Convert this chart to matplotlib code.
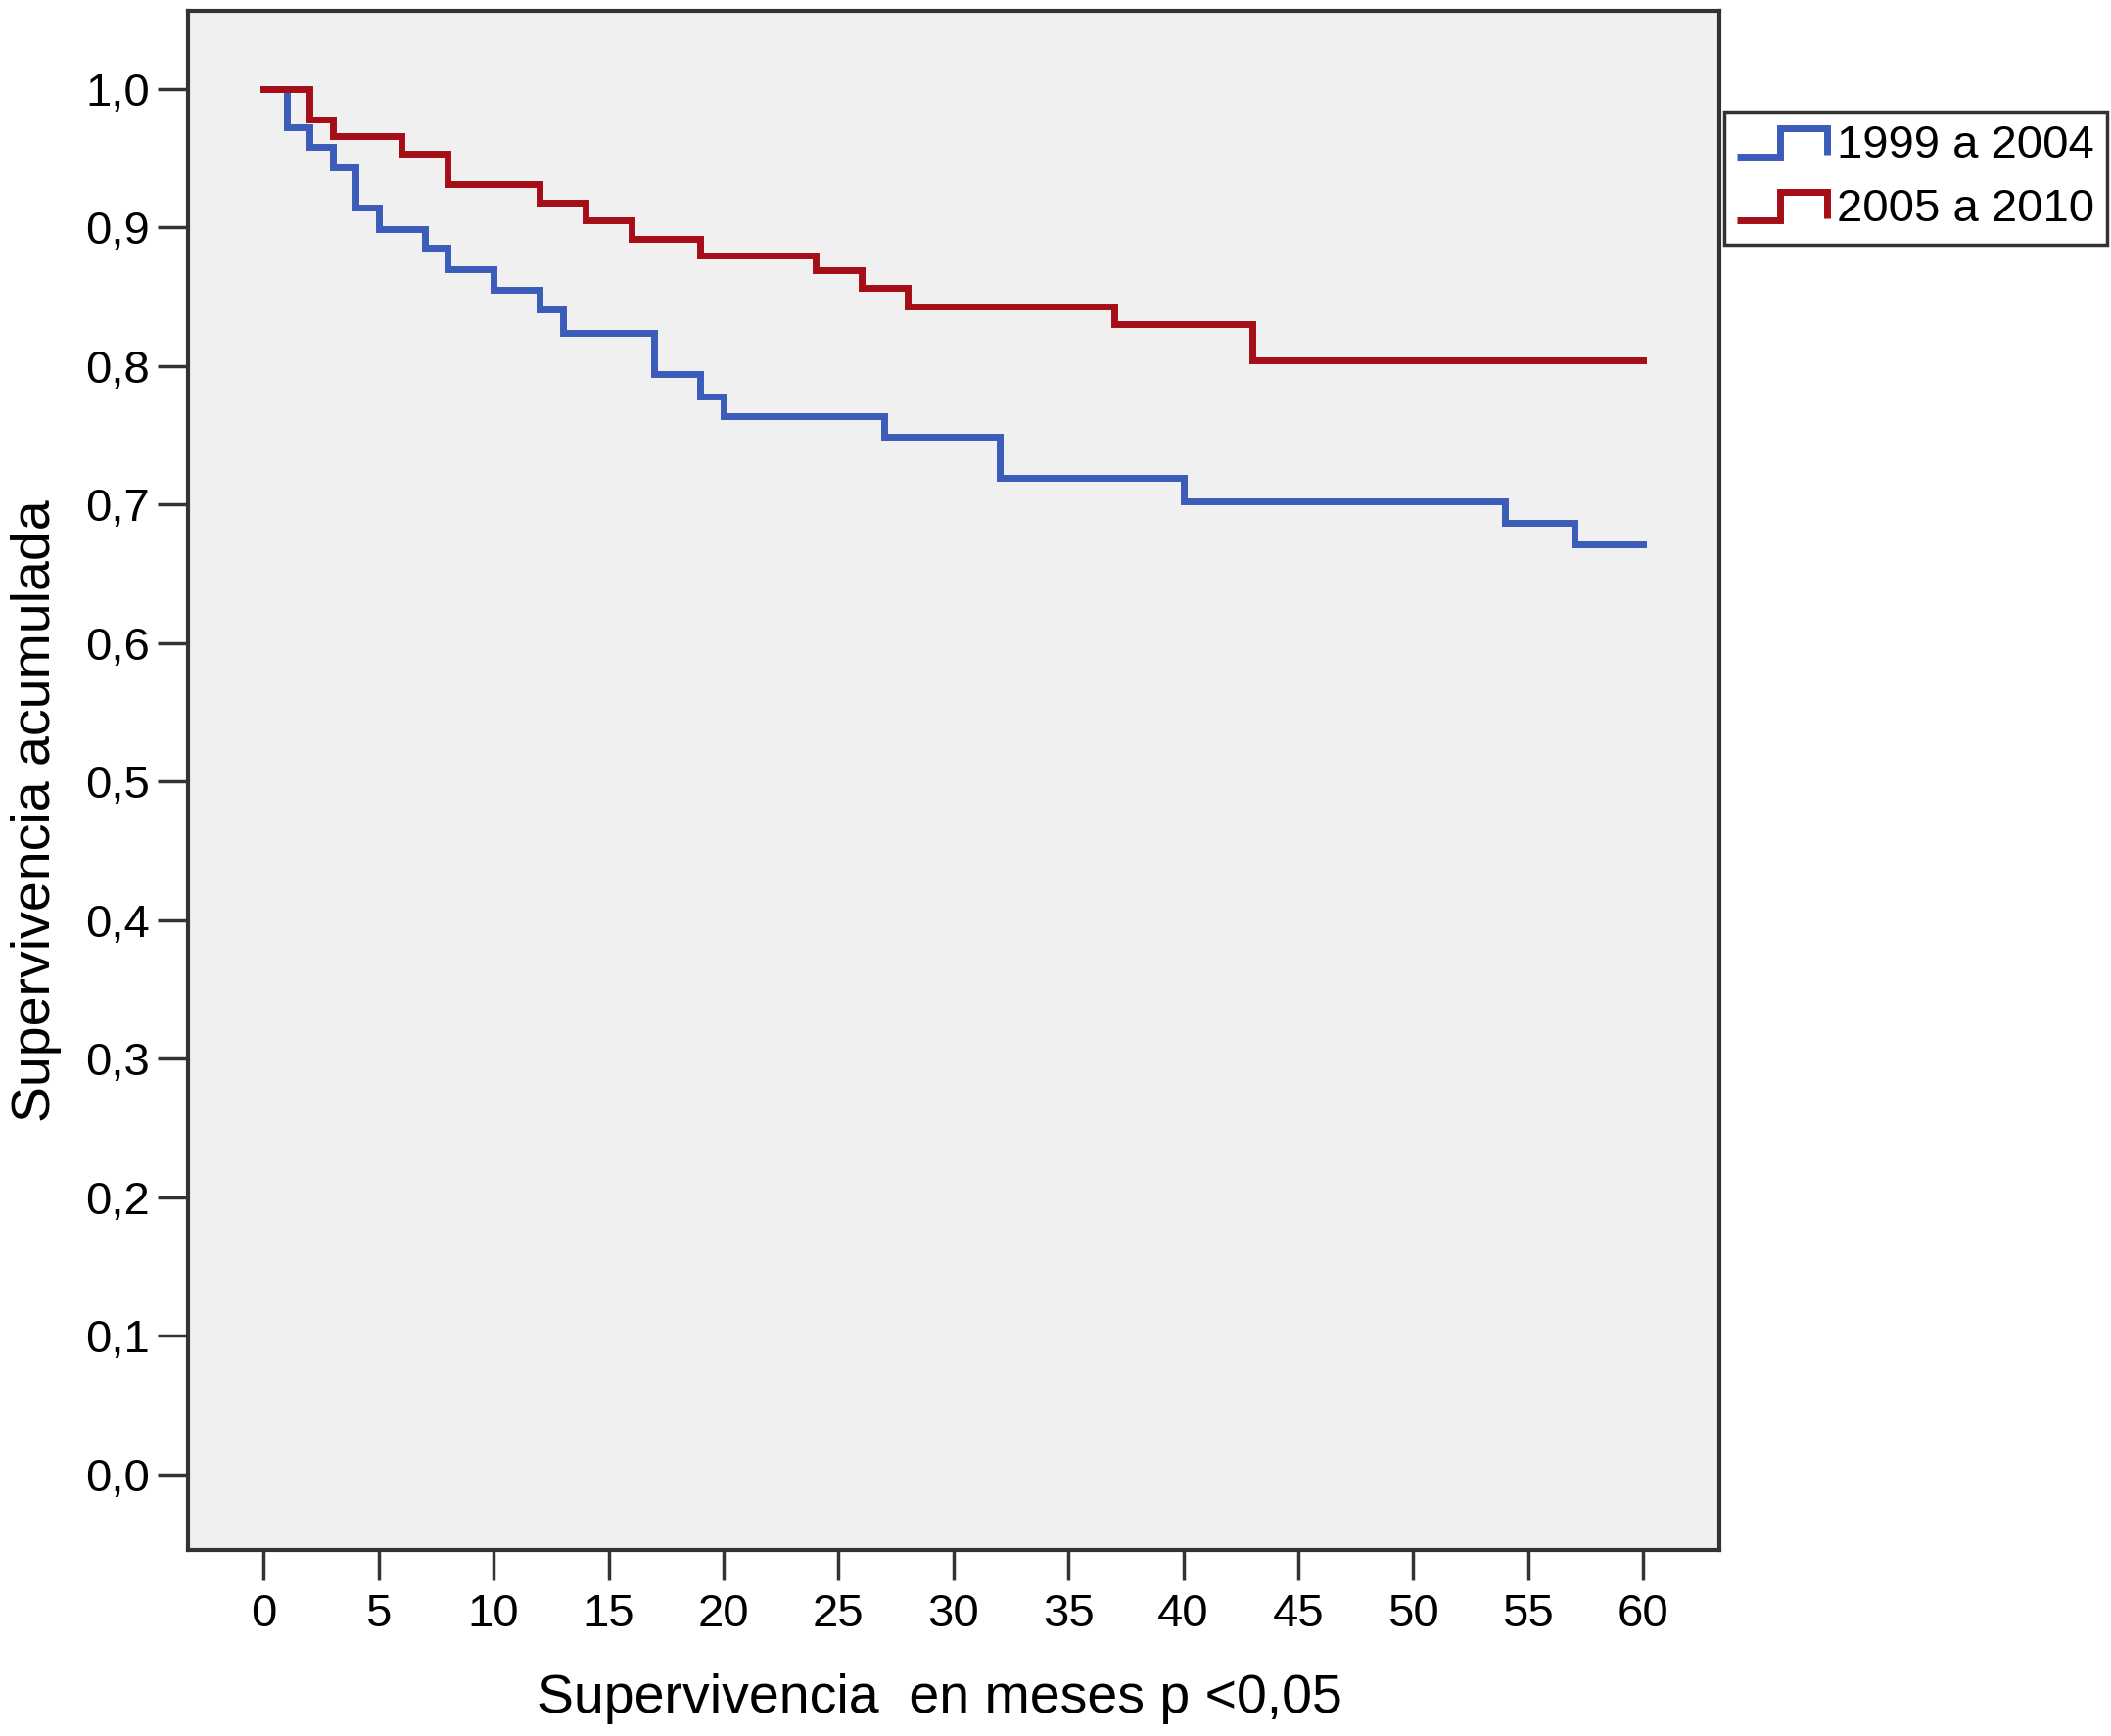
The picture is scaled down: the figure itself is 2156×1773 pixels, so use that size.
import numpy as np
import matplotlib
matplotlib.use("Agg")
import matplotlib.pyplot as plt
from matplotlib.lines import Line2D
from matplotlib.legend_handler import HandlerBase

plt.rcParams['font.family'] = ['Liberation Sans', 'DejaVu Sans']

# Kaplan-Meier steps (months, cumulative survival)
t_9904 = [0, 1, 2, 3, 4, 5, 7, 8, 10, 12, 13, 17, 19, 20, 27, 32, 40, 54, 57, 60]
s_9904 = [1.0, 0.972, 0.958, 0.943, 0.914, 0.899, 0.885, 0.870, 0.855, 0.841,
          0.824, 0.794, 0.778, 0.764, 0.749, 0.719, 0.702, 0.687, 0.671, 0.671]

t_0510 = [0, 2, 3, 6, 8, 12, 14, 16, 19, 24, 26, 28, 37, 43, 60]
s_0510 = [1.0, 0.978, 0.966, 0.953, 0.931, 0.918, 0.905, 0.892, 0.880, 0.869,
          0.856, 0.843, 0.830, 0.804, 0.804]

labels = ["1999 a 2004", "2005 a 2010"]
colors = ["#3b5cb8", "#a50d17"]

x_ticks = list(range(0, 61, 5))
y_ticks = [i / 10 for i in range(11)]
y_ticklabels = [("%.1f" % v).replace(".", ",") for v in y_ticks]


class StepHandler(HandlerBase):
    # little step icon like the SPSS legend
    def create_artists(self, legend, orig_handle, xdescent, ydescent,
                       width, height, fontsize, trans):
        xs = np.array([0, 0.47, 0.47, 1.0, 1.0]) * width - xdescent
        ys = np.array([0.05, 0.05, 0.92, 0.92, 0.1]) * height - ydescent
        ln = Line2D(xs, ys, color=orig_handle.get_color(),
                    lw=orig_handle.get_linewidth(), solid_joinstyle='miter',
                    solid_capstyle='butt')
        ln.set_transform(trans)
        return [ln]


fig = plt.figure(figsize=(21.56, 17.73), dpi=100)
ax = fig.add_axes([0.0891, 0.1072, 0.8145 - 0.0891, 0.9938 - 0.1072])
ax.set_facecolor("#f0f0f0")

l1, = ax.step(t_9904, s_9904, where='post', color=colors[0], lw=5,
              solid_joinstyle='miter', label=labels[0])
l2, = ax.step(t_0510, s_0510, where='post', color=colors[1], lw=5,
              solid_joinstyle='miter', label=labels[1])

ax.set_xlim(-3.29, 63.32)
ax.set_ylim(-0.0544, 1.0563)
ax.set_xticks(x_ticks)
ax.set_xticklabels([str(v) for v in x_ticks])
ax.set_yticks(y_ticks)
ax.set_yticklabels(y_ticklabels)

for s in ax.spines.values():
    s.set_color("#333333")
    s.set_linewidth(3)
ax.tick_params(axis='x', length=22, width=2.5, color="#333333", pad=10, labelsize=34)
ax.tick_params(axis='y', length=22, width=2.5, color="#333333", pad=6, labelsize=34)

ax.set_xlabel("Supervivencia  en meses p <0,05", fontsize=40, va='center')
ax.set_ylabel("Supervivencia acumulada", fontsize=40, va='center')
ax.xaxis.set_label_coords(0.491, -0.097)
ax.yaxis.set_label_coords(-0.099, 0.48)

leg = fig.legend(handles=[l1, l2], labels=labels, loc='upper left',
                 bbox_to_anchor=(1761 / 2156, 1 - 114 / 1773),
                 handler_map={Line2D: StepHandler()},
                 fontsize=34, frameon=True, fancybox=False, shadow=False,
                 borderaxespad=0, borderpad=0.28, handlelength=1.95,
                 handletextpad=0.2, labelspacing=0.45)
leg.get_frame().set_edgecolor("black")
leg.get_frame().set_linewidth(2.5)
leg.get_frame().set_facecolor("white")

fig.savefig("out.png", dpi=100)
